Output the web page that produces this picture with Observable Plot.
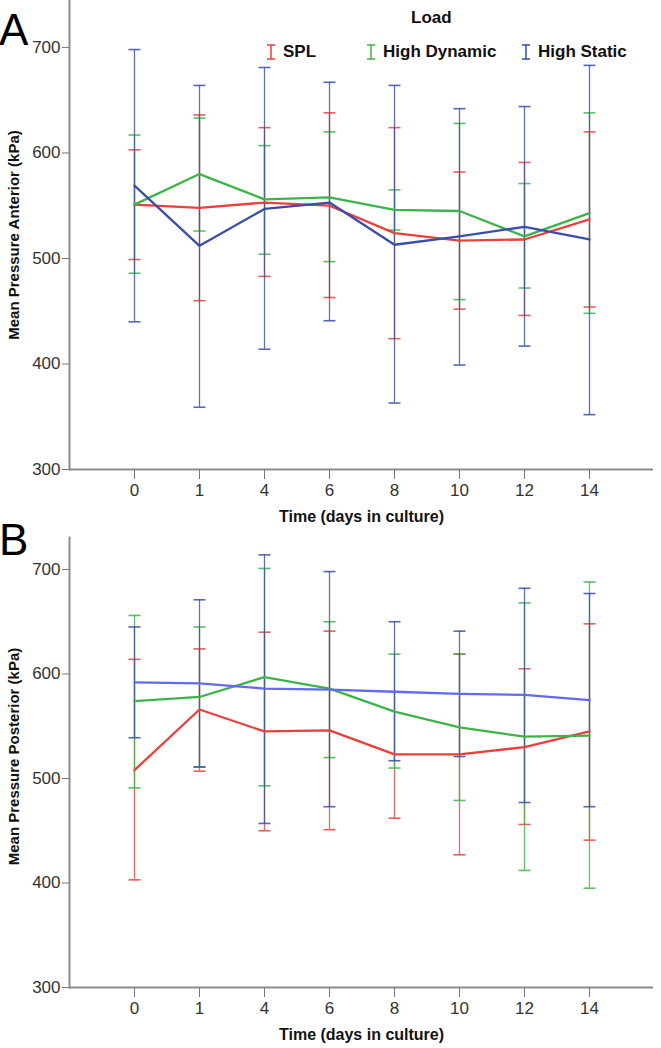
<!DOCTYPE html>
<html><head><meta charset="utf-8">
<script src="https://cdn.jsdelivr.net/npm/d3@7"></script>
<script src="https://cdn.jsdelivr.net/npm/@observablehq/plot@0.6"></script>
<style>
body{margin:0;background:#fff;}
#wrap{position:relative;width:661px;height:1048px;overflow:hidden;font-family:"Liberation Sans",Arial,sans-serif;background:#fff;}
.panel{position:absolute;left:0;}
.letter{position:absolute;left:-1px;font-size:44px;line-height:44px;color:#000;}
.legend{position:absolute;font-weight:bold;color:#111;font-size:17px;line-height:20px;white-space:nowrap;}
.legend svg{position:absolute;}
</style></head><body>
<div id="wrap">
  <div id="pa" class="panel" style="top:0"></div>
  <div id="pb" class="panel" style="top:530px"></div>
  <div class="letter" style="top:8px">A</div>
  <div class="letter" style="top:518px">B</div>
  <div id="legend"></div>
</div>
<script>
const days = ["0","1","4","6","8","10","12","14"];
const loads = ["SPL","High Dynamic","High Static"];
const legendTitle = "Load";
const xTitle = "Time (days in culture)";
const yTitleA = "Mean Pressure Anterior (kPa)";
const yTitleB = "Mean Pressure Posterior (kPa)";
const yTicks = [300,400,500,600,700];

// Panel A (anterior)
const antSplMean = [551, 548, 553, 550, 524, 517, 518, 537];
const antSplLow  = [499, 460, 483, 463, 424, 452, 446, 454];
const antSplHigh = [603, 636, 624, 638, 624, 582, 591, 620];
const antHdMean  = [551, 580, 556, 558, 546, 545, 521, 543];
const antHdLow   = [486, 526, 504, 497, 527, 461, 472, 448];
const antHdHigh  = [617, 633, 607, 620, 565, 628, 571, 638];
const antHsMean  = [569, 512, 547, 553, 513, 521, 530, 518];
const antHsLow   = [440, 359, 414, 441, 363, 399, 417, 352];
const antHsHigh  = [698, 664, 681, 667, 664, 642, 644, 683];

// Panel B (posterior)
const postSplMean = [508, 566, 545, 546, 523, 523, 530, 545];
const postSplLow  = [403, 507, 450, 451, 462, 427, 456, 441];
const postSplHigh = [614, 624, 640, 641, 583, 619, 605, 648];
const postHdMean  = [574, 578, 597, 586, 564, 549, 540, 541];
const postHdLow   = [491, 511, 493, 520, 510, 479, 412, 395];
const postHdHigh  = [656, 645, 701, 650, 619, 619, 668, 688];
const postHsMean  = [592, 591, 586, 585, 583, 581, 580, 575];
const postHsLow   = [539, 511, 457, 473, 517, 521, 477, 473];
const postHsHigh  = [645, 671, 714, 698, 650, 641, 682, 677];

const errColors = ["#e8413c", "#3cb44a", "#3a4ea8"];
const lineColorsA = ["#e8413c", "#3cb44a", "#3a4ea8"];
const lineColorsB = ["#e8413c", "#3cb44a", "#6469ee"];

// horizontal-bar symbol for error-bar caps
const capSymbol = {
  draw(context, size) {
    const r = Math.sqrt(size / Math.PI);
    context.moveTo(-r, 0);
    context.lineTo(r, 0);
  }
};

function rows(mean, lo, hi) {
  return days.map((d, i) => ({day: d, mean: mean[i], lo: lo[i], hi: hi[i]}));
}

function panel({series, lineColors, yTop, height, marginTop, yTitle, titleShift}) {
  const marks = [
    Plot.ruleY([300], {stroke: "#8c8c8c", strokeWidth: 2}),
    Plot.frame({anchor: "left", stroke: "#8c8c8c", strokeWidth: 2}),
    Plot.axisY({ticks: yTicks, tickSize: 7, tickPadding: 2, fontSize: 17, stroke: "#777", fill: "#333", label: null, fontFamily: "Liberation Sans Narrow, Liberation Sans, Arial"}),
    Plot.axisX({tickSize: 10, tickPadding: 4, fontSize: 17, stroke: "#777", fill: "#333", label: null, fontFamily: "Liberation Sans Narrow, Liberation Sans, Arial"}),
    Plot.text([yTitle], {frameAnchor: "left", textAnchor: "middle", rotate: -90, dx: -55, dy: titleShift, fontWeight: "bold", fontSize: 15, fill: "#111", letterSpacing: "1.3px"}),
    Plot.text([xTitle], {frameAnchor: "bottom", textAnchor: "middle", dy: 52, fontWeight: "bold", fontSize: 16, fill: "#111"})
  ];
  series.forEach((s, k) => {
    const data = rows(s.mean, s.lo, s.hi);
    const c = errColors[k];
    marks.push(Plot.ruleX(data, {x: "day", y1: "lo", y2: "hi", stroke: c, strokeWidth: 1.3, strokeOpacity: 0.8}));
    marks.push(Plot.dot(data, {x: "day", y: "lo", symbol: capSymbol, r: 6, fill: "none", stroke: c, strokeWidth: 1.6, strokeOpacity: 0.85}));
    marks.push(Plot.dot(data, {x: "day", y: "hi", symbol: capSymbol, r: 6, fill: "none", stroke: c, strokeWidth: 1.6, strokeOpacity: 0.85}));
  });
  series.forEach((s, k) => {
    const data = rows(s.mean, s.lo, s.hi);
    marks.push(Plot.line(data, {x: "day", y: "mean", stroke: lineColors[k], strokeWidth: 2.3}));
  });
  return Plot.plot({
    width: 661, height, marginLeft: 69, marginRight: 8, marginTop, marginBottom: 61,
    x: {type: "point", domain: days, padding: 0.97},
    y: {domain: [300, yTop]},
    style: {fontFamily: "Liberation Sans, Arial, sans-serif", background: "transparent"},
    marks
  });
}

document.getElementById("pa").append(panel({
  series: [
    {mean: antSplMean, lo: antSplLow, hi: antSplHigh},
    {mean: antHdMean, lo: antHdLow, hi: antHdHigh},
    {mean: antHsMean, lo: antHsLow, hi: antHsHigh}
  ],
  lineColors: lineColorsA, yTop: 744.5, height: 530, marginTop: 0, yTitle: yTitleA, titleShift: 0
}));
document.getElementById("pb").append(panel({
  series: [
    {mean: postSplMean, lo: postSplLow, hi: postSplHigh},
    {mean: postHdMean, lo: postHdLow, hi: postHdHigh},
    {mean: postHsMean, lo: postHsLow, hi: postHsHigh}
  ],
  lineColors: lineColorsB, yTop: 730.6, height: 518, marginTop: 7, yTitle: yTitleB, titleShift: -6
}));

// Legend
const lg = document.getElementById("legend");
const title = document.createElement("div");
title.className = "legend";
title.style.left = "411px"; title.style.top = "8px";
title.textContent = legendTitle;
lg.append(title);
const legendX = [271, 371, 526];
loads.forEach((name, k) => {
  const item = document.createElement("div");
  item.className = "legend";
  item.style.left = (legendX[k] - 5) + "px";
  item.style.top = "42px";
  item.style.paddingLeft = "17px";
  item.innerHTML = `<svg width="10" height="16" style="left:0;top:2px"><g stroke="${errColors[k]}" stroke-width="1.5"><line x1="1" x2="9" y1="1" y2="1"/><line x1="5" x2="5" y1="1" y2="15"/><line x1="1" x2="9" y1="15" y2="15"/></g></svg>`;
  const t = document.createElement("span");
  t.textContent = name;
  item.append(t);
  lg.append(item);
});
</script>
</body></html>
